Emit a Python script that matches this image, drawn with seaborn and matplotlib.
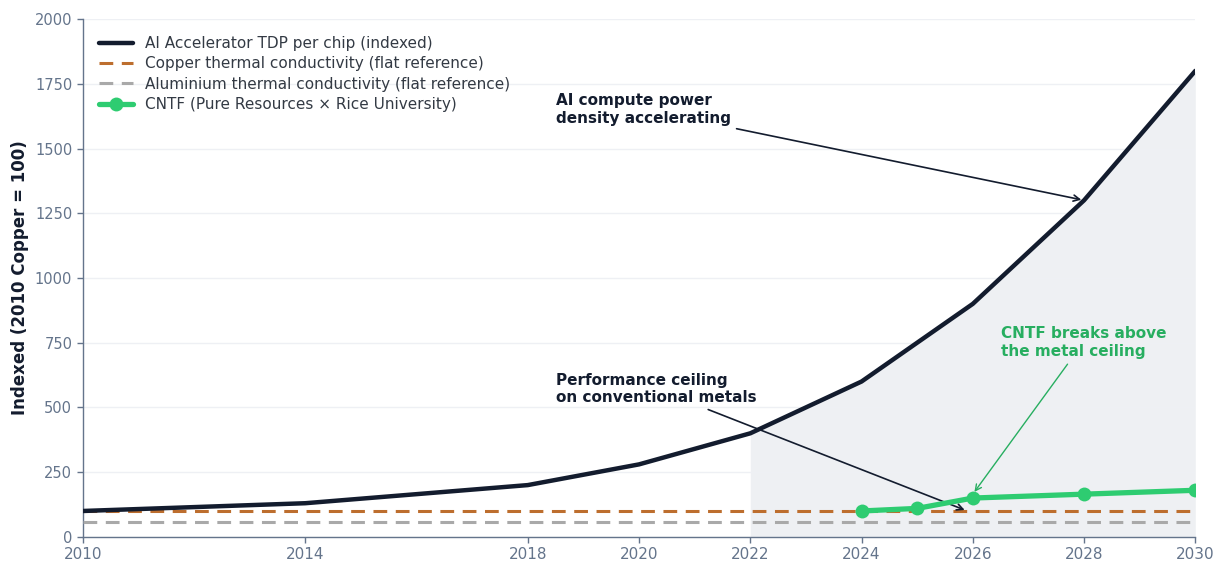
import numpy as np
import pandas as pd
import matplotlib
matplotlib.use("Agg")
import matplotlib.pyplot as plt
import seaborn as sns

# Chart values
years = [2010, 2014, 2018, 2020, 2022, 2024, 2026, 2028, 2030]
tdp_index = [100, 130, 200, 280, 400, 600, 900, 1300, 1800]
copper_index = 100
aluminium_index = 59
cntf_years = [2024, 2025, 2026, 2028, 2030]
cntf_index = [100, 110, 150, 165, 180]

navy = "#131c2e"
copper = "#bd6e2e"
alu = "#a9a9a9"
green = "#2ecc71"
green_text = "#27ae60"
tick_grey = "#64748b"

sns.set_style("white")
plt.rcParams["font.family"] = ["DejaVu Sans"]

fig, ax = plt.subplots(figsize=(12.16, 5.61), dpi=100)
fig.subplots_adjust(left=0.068, right=0.983, top=0.966, bottom=0.043)

tdp = pd.DataFrame({"year": years, "value": tdp_index})
cntf = pd.DataFrame({"year": cntf_years, "value": cntf_index})

# Shaded region under the curve from 2022 onwards
mask = tdp["year"] >= 2022
ax.fill_between(tdp["year"][mask], 0, tdp["value"][mask], color="#eceef1", alpha=0.85, zorder=0, lw=0)

sns.lineplot(data=tdp, x="year", y="value", ax=ax, color=navy, lw=3.2,
             label="AI Accelerator TDP per chip (indexed)", zorder=4)
ax.axhline(copper_index, color=copper, lw=2.2, ls=(0, (4.5, 2.8)),
           label="Copper thermal conductivity (flat reference)", zorder=3)
ax.axhline(aluminium_index, color=alu, lw=2.2, ls=(0, (4.5, 2.8)),
           label="Aluminium thermal conductivity (flat reference)", zorder=3)
sns.lineplot(data=cntf, x="year", y="value", ax=ax, color=green, lw=3.8,
             marker="o", markersize=10, markeredgewidth=0,
             label="CNTF (Pure Resources \u00d7 Rice University)", zorder=5)

ax.set_xlim(2010, 2030)
ax.set_ylim(0, 2000)
ax.set_xticks(years)
ax.set_yticks(np.arange(0, 2001, 250))
ax.set_xlabel("")
ax.set_ylabel("Indexed (2010 Copper = 100)", fontsize=12, fontweight="bold", color=navy)
ax.tick_params(axis="both", labelsize=10.5, colors=tick_grey, length=4, width=1, bottom=True, left=True)
ax.tick_params(axis="x", labelsize=11)
ax.yaxis.grid(True, color="#eef0f4", lw=1)
ax.set_axisbelow(True)
for s in ["top", "right"]:
    ax.spines[s].set_visible(False)
for s in ["left", "bottom"]:
    ax.spines[s].set_color(tick_grey)
    ax.spines[s].set_linewidth(1)

# Annotations
ax.annotate("AI compute power\ndensity accelerating", xy=(2028, 1300), xytext=(2018.5, 1600),
            fontsize=11, fontweight="bold", color=navy,
            arrowprops=dict(arrowstyle="->", color=navy, lw=1.2))
ax.annotate("Performance ceiling\non conventional metals", xy=(2025.9, 100), xytext=(2018.5, 520),
            fontsize=11, fontweight="bold", color=navy,
            arrowprops=dict(arrowstyle="->", color=navy, lw=1.2))
ax.annotate("CNTF breaks above\nthe metal ceiling", xy=(2026, 165), xytext=(2026.5, 700),
            fontsize=11, fontweight="bold", color=green_text,
            arrowprops=dict(arrowstyle="->", color=green_text, lw=1.0))

leg = ax.legend(loc="upper left", frameon=False, fontsize=11, handlelength=2.2,
                borderaxespad=0.7, labelspacing=0.35)
for t in leg.get_texts():
    t.set_color("#333a44")

fig.savefig("out.png", dpi=100)
